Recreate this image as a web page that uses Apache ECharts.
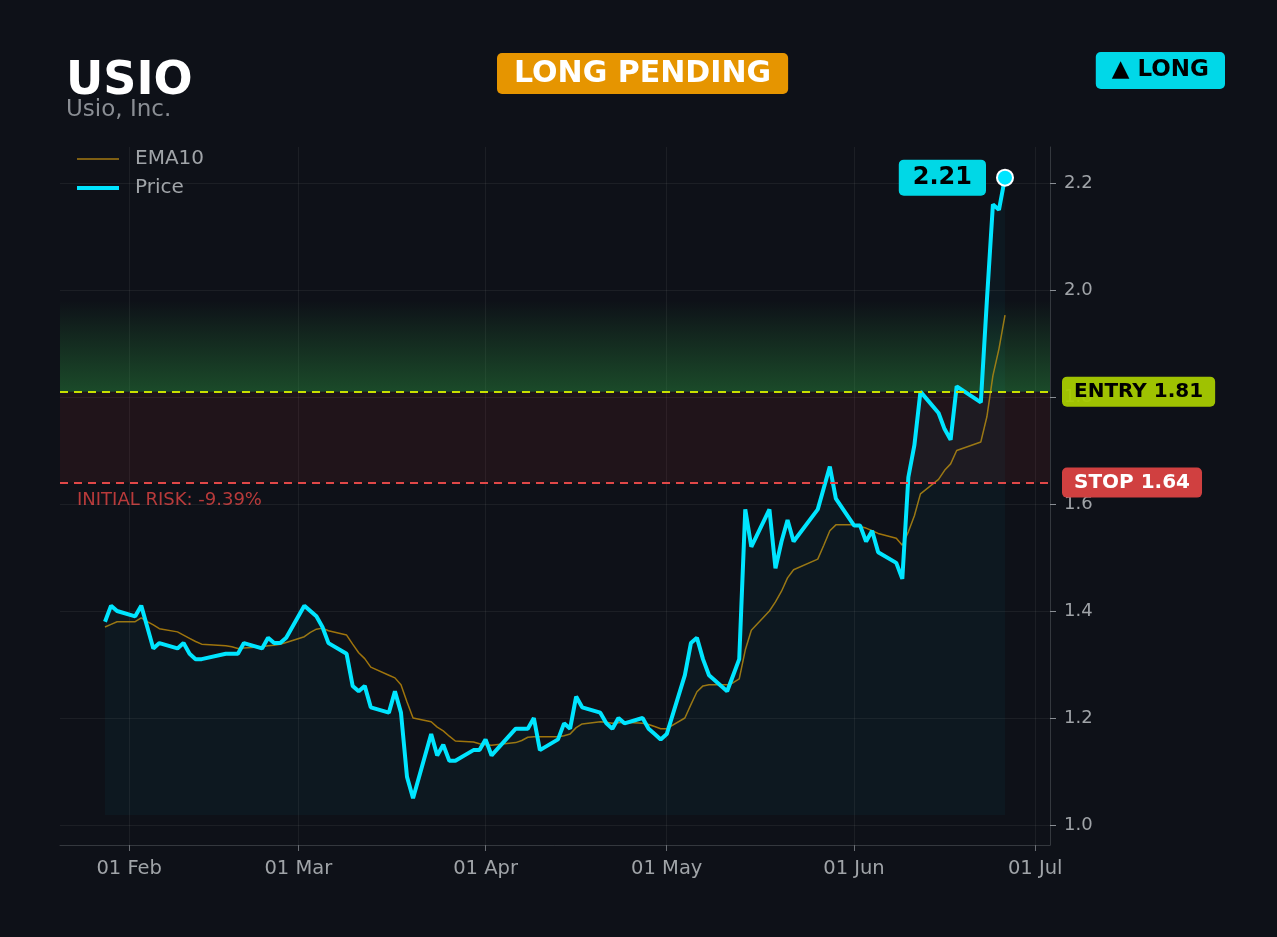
<!DOCTYPE html>
<html>
<head>
<meta charset="utf-8">
<script src="https://cdn.jsdelivr.net/npm/echarts@6/dist/echarts.min.js"></script>
<style>
html,body{margin:0;padding:0;background:#0e1118;}
#chart{width:1277px;height:937px;}
</style>
</head>
<body>
<div id="chart"></div>
<script>
// trading days (2026)
var dates = ['2026-01-28','2026-01-29','2026-01-30','2026-02-02','2026-02-03','2026-02-04','2026-02-05','2026-02-06',
	'2026-02-09','2026-02-10','2026-02-11','2026-02-12','2026-02-13','2026-02-17','2026-02-18','2026-02-19','2026-02-20',
	'2026-02-23','2026-02-24','2026-02-25','2026-02-26','2026-02-27','2026-03-02','2026-03-03','2026-03-04','2026-03-05',
	'2026-03-06','2026-03-09','2026-03-10','2026-03-11','2026-03-12','2026-03-13','2026-03-16','2026-03-17','2026-03-18',
	'2026-03-19','2026-03-20','2026-03-23','2026-03-24','2026-03-25','2026-03-26','2026-03-27','2026-03-30','2026-03-31',
	'2026-04-01','2026-04-02','2026-04-06','2026-04-07','2026-04-08','2026-04-09','2026-04-10','2026-04-13','2026-04-14',
	'2026-04-15','2026-04-16','2026-04-17','2026-04-20','2026-04-21','2026-04-22','2026-04-23','2026-04-24','2026-04-27',
	'2026-04-28','2026-04-29','2026-04-30','2026-05-01','2026-05-04','2026-05-05','2026-05-06','2026-05-07','2026-05-08',
	'2026-05-11','2026-05-12','2026-05-13','2026-05-14','2026-05-15','2026-05-18','2026-05-19','2026-05-20','2026-05-21',
	'2026-05-22','2026-05-26','2026-05-27','2026-05-28','2026-05-29','2026-06-01','2026-06-02','2026-06-03','2026-06-04',
	'2026-06-05','2026-06-08','2026-06-09','2026-06-10','2026-06-11','2026-06-12','2026-06-15','2026-06-16','2026-06-17',
	'2026-06-18','2026-06-22','2026-06-23','2026-06-24','2026-06-25','2026-06-26'];

var price = [1.38,1.41,1.40,1.39,1.41,1.37,1.33,1.34,
	1.33,1.34,1.32,1.31,1.31,1.32,1.32,1.32,1.34,
	1.33,1.35,1.34,1.34,1.35,1.41,1.40,1.39,1.37,
	1.34,1.32,1.26,1.25,1.26,1.22,1.21,1.25,1.21,
	1.09,1.05,1.17,1.13,1.15,1.12,1.12,1.14,1.14,
	1.16,1.13,1.18,1.18,1.18,1.20,1.14,1.16,1.19,
	1.18,1.24,1.22,1.21,1.19,1.18,1.20,1.19,1.20,
	1.18,1.17,1.16,1.17,1.28,1.34,1.35,1.31,1.28,
	1.25,1.28,1.31,1.59,1.52,1.59,1.48,1.53,1.57,
	1.53,1.59,1.63,1.67,1.61,1.56,1.56,1.53,1.55,
	1.51,1.49,1.46,1.65,1.71,1.81,1.77,1.74,1.72,
	1.82,1.79,1.98,2.16,2.15,2.21];

var ema10 = [1.370,1.375,1.380,1.380,1.387,1.380,1.374,1.367,
	1.361,1.355,1.349,1.343,1.338,1.335,1.333,1.330,1.331,
	1.333,1.335,1.336,1.338,1.341,1.352,1.360,1.366,1.368,
	1.363,1.355,1.338,1.322,1.311,1.295,1.280,1.275,1.262,
	1.230,1.200,1.193,1.183,1.176,1.166,1.157,1.155,1.152,
	1.150,1.149,1.154,1.158,1.164,1.165,1.165,1.165,1.167,
	1.170,1.182,1.189,1.193,1.192,1.190,1.191,1.192,1.190,
	1.188,1.184,1.180,1.180,1.200,1.225,1.249,1.260,1.262,
	1.262,1.266,1.273,1.327,1.364,1.400,1.417,1.437,1.462,
	1.477,1.497,1.523,1.550,1.561,1.561,1.558,1.555,1.550,
	1.545,1.536,1.523,1.548,1.578,1.619,1.646,1.663,1.675,
	1.700,1.716,1.763,1.840,1.890,1.953];

var ticker = 'USIO';
var company = 'Usio, Inc.';
var entryPrice = 1.81;
var stopPrice = 1.64;
var targetTop = 1.98;
var riskPct = -9.39;

var FONT = 'DejaVu Sans';
var MONTHS = ['Jan','Feb','Mar','Apr','May','Jun','Jul','Aug','Sep','Oct','Nov','Dec'];

function toTs(s){
	var p = s.split('-');
	return new Date(+p[0], +p[1]-1, +p[2]).getTime();
}

var priceData = [], emaData = [];
for(var i = 0;i < dates.length;i++){
	priceData.push([toTs(dates[i]), price[i]]);
	emaData.push([toTs(dates[i]), ema10[i]]);
}
var firstTs = toTs(dates[0]);
var lastTs = toTs(dates[dates.length-1]);
var pad = (lastTs - firstTs) * 0.05;
var lastPrice = price[price.length-1];
var minPrice = Math.min.apply(null, price);

var chart = echarts.init(document.getElementById('chart'));
var option = {
	backgroundColor:'#0e1118',
	animation:false,
	textStyle:{fontFamily:FONT},
	title:[{
		text:ticker,
		left:66,
		top:59,
		padding:0,
		textStyle:{color:'#ffffff',fontSize:46,fontWeight:'bold',fontFamily:FONT}
	},{
		text:company,
		left:66,
		top:99,
		padding:0,
		textStyle:{color:'#8a8e94',fontSize:23,fontWeight:'normal',fontFamily:FONT}
	},{
		text:'LONG PENDING',
		left:497,
		top:53,
		backgroundColor:'#e69500',
		borderRadius:5,
		padding:[6,17,5,17],
		textStyle:{color:'#ffffff',fontSize:30,fontWeight:'bold',fontFamily:FONT}
	},{
		text:'▲ LONG',
		right:52,
		top:52,
		backgroundColor:'#00d8e8',
		borderRadius:5,
		padding:[7,16,7,16],
		textStyle:{color:'#000000',fontSize:23,fontWeight:'bold',fontFamily:FONT}
	}],
	legend:{
		orient:'vertical',
		left:72,
		top:144,
		itemWidth:42,
		itemHeight:14,
		itemGap:9,
		data:[
			{name:'EMA10',icon:'path://M0,0H42V1.6H0Z'},
			{name:'Price',icon:'path://M0,0H42V4H0Z'}
		],
		textStyle:{color:'#a0a4a8',fontSize:20,fontFamily:FONT,padding:[0,0,0,11]}
	},
	graphic:[{
		type:'text',
		left:77,
		top:491,
		style:{
			text:'INITIAL RISK: ' + riskPct.toFixed(2) + '%',
			fill:'#b83a3a',
			font:'18px "DejaVu Sans"'
		}
	}],
	grid:{left:60,right:227,top:147,bottom:92,containLabel:false},
	xAxis:{
		type:'time',
		min:firstTs - pad,
		max:lastTs + pad,
		splitNumber:6,
		axisLine:{show:true,lineStyle:{color:'#34383e'}},
		axisTick:{show:true,length:6,lineStyle:{color:'#6a6e74'}},
		splitLine:{show:true,showMinLine:false,showMaxLine:false,lineStyle:{color:'rgba(255,255,255,0.06)'}},
		axisLabel:{
			color:'#a0a4a8',
			fontSize:19.5,
			fontFamily:FONT,
			margin:14,
			showMinLabel:false,
			showMaxLabel:false,
			formatter:function(v){
				var d = new Date(v);
				var dd = d.getDate();
				return (dd < 10 ? '0' + dd : dd) + ' ' + MONTHS[d.getMonth()];
			}
		}
	},
	yAxis:{
		type:'value',
		position:'right',
		min:0.96262,
		max:2.2673,
		splitNumber:6,
		scale:true,
		axisLine:{show:true,lineStyle:{color:'#34383e'}},
		axisTick:{show:true,length:6,lineStyle:{color:'#8a8e94'}},
		splitLine:{show:true,showMinLine:false,showMaxLine:false,lineStyle:{color:'rgba(255,255,255,0.06)'}},
		axisLabel:{
			color:'#a0a4a8',
			fontSize:18,
			fontFamily:FONT,
			margin:14,
			showMinLabel:false,
			showMaxLabel:false,
			formatter:function(v){ return v.toFixed(1); }
		}
	},
	series:[{
		name:'EMA10',
		type:'line',
		data:emaData,
		symbol:'none',
		z:3,
		lineStyle:{color:'#b8860b',width:1.5,opacity:0.85},
		itemStyle:{color:'#a47a12'},
		markArea:{
			silent:true,
			data:[
				[{yAxis:entryPrice,itemStyle:{color:{type:'linear',x:0,y:0,x2:0,y2:1,colorStops:[
					{offset:0,color:'rgba(46,160,67,0)'},
					{offset:1,color:'rgba(46,160,67,0.40)'}
				]}}},{yAxis:targetTop}],
				[{yAxis:stopPrice,itemStyle:{color:'rgba(200,45,50,0.10)'}},{yAxis:entryPrice}]
			]
		}
	},{
		name:'Price',
		type:'line',
		data:priceData,
		symbol:'none',
		z:4,
		lineStyle:{color:'#00e5ff',width:4},
		itemStyle:{color:'#00e5ff'},
		areaStyle:{color:'rgba(0,229,255,0.05)',origin:minPrice*0.97},
		markLine:{
			silent:true,
			symbol:'none',
			data:[{
				yAxis:entryPrice,
				lineStyle:{color:'#c8e000',type:[8,6],width:2},
				label:{
					show:true,position:'end',distance:12,
					formatter:'ENTRY ' + entryPrice.toFixed(2),
					backgroundColor:'rgba(168,204,0,0.95)',borderRadius:5,padding:[5,12,5,12],
					color:'#000000',fontSize:20,fontWeight:'bold',fontFamily:FONT
				}
			},{
				yAxis:stopPrice,
				lineStyle:{color:'#e04848',type:[8,6],width:2},
				label:{
					show:true,position:'end',distance:12,
					formatter:'STOP ' + stopPrice.toFixed(2),
					backgroundColor:'#d04040',borderRadius:5,padding:[5,12,5,12],
					color:'#ffffff',fontSize:20,fontWeight:'bold',fontFamily:FONT
				}
			}]
		},
		markPoint:{
			silent:true,
			symbol:'circle',
			symbolSize:16,
			itemStyle:{color:'#00e5ff',borderColor:'#ffffff',borderWidth:2},
			data:[{coord:[lastTs,lastPrice],value:lastPrice}],
			label:{
				show:true,position:'left',distance:10,
				formatter:function(p){ return p.value.toFixed(2); },
				backgroundColor:'#00d8e6',borderRadius:5,padding:[6,14,6,14],
				color:'#000000',fontSize:24,fontWeight:'bold',fontFamily:FONT
			}
		}
	}]
};
chart.setOption(option);
</script>
</body>
</html>
